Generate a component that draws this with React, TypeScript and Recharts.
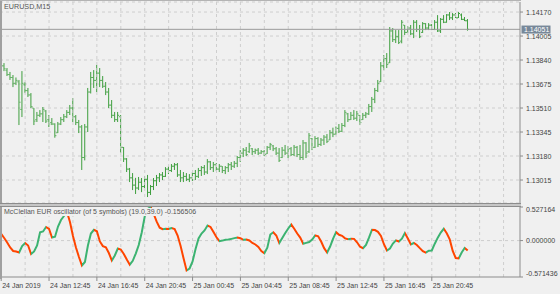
import React from "react";
import { ComposedChart, Bar, Line, XAxis, YAxis, CartesianGrid, ReferenceLine } from "recharts";

const opens = [1.13790,1.13800,1.13770,1.13740,1.13720,1.13680,1.13690,1.13500,1.13670,1.13630,1.13600,1.13510,1.13430,1.13460,1.13470,1.13490,1.13430,1.13410,1.13400,1.13340,1.13400,1.13430,1.13450,1.13480,1.13510,1.13450,1.13410,1.13380,1.13170,1.13380,1.13620,1.13720,1.13700,1.13750,1.13700,1.13660,1.13620,1.13530,1.13460,1.13430,1.13450,1.13240,1.13160,1.13090,1.13030,1.12980,1.12960,1.13000,1.12970,1.13020,1.12930,1.12970,1.13010,1.13030,1.13050,1.13040,1.13090,1.13080,1.13110,1.13120,1.13050,1.13030,1.13040,1.13020,1.13030,1.13060,1.13040,1.13080,1.13100,1.13070,1.13140,1.13100,1.13120,1.13090,1.13110,1.13080,1.13100,1.13120,1.13110,1.13130,1.13170,1.13200,1.13220,1.13210,1.13230,1.13210,1.13220,1.13200,1.13210,1.13195,1.13240,1.13250,1.13230,1.13200,1.13170,1.13220,1.13200,1.13230,1.13190,1.13240,1.13190,1.13170,1.13270,1.13210,1.13300,1.13240,1.13300,1.13260,1.13290,1.13310,1.13290,1.13340,1.13330,1.13370,1.13350,1.13390,1.13470,1.13430,1.13460,1.13440,1.13460,1.13430,1.13460,1.13470,1.13520,1.13570,1.13630,1.13690,1.13800,1.13850,1.13820,1.14040,1.13980,1.14000,1.13970,1.14080,1.14030,1.14060,1.14020,1.14100,1.14050,1.14030,1.14090,1.14060,1.14080,1.14050,1.14100,1.14040,1.14120,1.14100,1.14150,1.14130,1.14150,1.14130,1.14150,1.14120,1.14110];
const highs = [1.13820,1.13819,1.13785,1.13758,1.13737,1.13720,1.13703,1.13764,1.13689,1.13648,1.13613,1.13510,1.13483,1.13496,1.13517,1.13496,1.13462,1.13441,1.13405,1.13414,1.13448,1.13469,1.13496,1.13531,1.13579,1.13462,1.13428,1.13393,1.13400,1.13648,1.13758,1.13771,1.13806,1.13785,1.13730,1.13689,1.13648,1.13565,1.13483,1.13483,1.13462,1.13242,1.13166,1.13098,1.13063,1.13030,1.13036,1.13029,1.13043,1.13050,1.12981,1.13029,1.13050,1.13063,1.13070,1.13104,1.13111,1.13125,1.13132,1.13132,1.13084,1.13070,1.13063,1.13056,1.13070,1.13084,1.13098,1.13111,1.13118,1.13159,1.13146,1.13139,1.13132,1.13125,1.13111,1.13111,1.13132,1.13139,1.13146,1.13180,1.13221,1.13235,1.13242,1.13270,1.13235,1.13231,1.13235,1.13221,1.13221,1.13249,1.13270,1.13256,1.13242,1.13235,1.13242,1.13256,1.13249,1.13242,1.13256,1.13249,1.13256,1.13290,1.13276,1.13338,1.13304,1.13317,1.13310,1.13304,1.13324,1.13331,1.13359,1.13375,1.13383,1.13400,1.13407,1.13496,1.13476,1.13483,1.13496,1.13490,1.13462,1.13476,1.13483,1.13538,1.13586,1.13648,1.13703,1.13826,1.13874,1.13888,1.14067,1.14060,1.14046,1.14046,1.14115,1.14081,1.14074,1.14081,1.14115,1.14115,1.14081,1.14101,1.14094,1.14094,1.14087,1.14115,1.14149,1.14129,1.14149,1.14156,1.14170,1.14163,1.14163,1.14170,1.14160,1.14136,1.14122];
const lows = [1.13770,1.13764,1.13730,1.13703,1.13654,1.13668,1.13393,1.13448,1.13613,1.13586,1.13510,1.13393,1.13414,1.13448,1.13414,1.13407,1.13379,1.13393,1.13306,1.13338,1.13393,1.13414,1.13441,1.13462,1.13414,1.13393,1.13338,1.13084,1.13150,1.13345,1.13610,1.13648,1.13620,1.13654,1.13648,1.13599,1.13510,1.13441,1.13414,1.13414,1.13201,1.13139,1.13070,1.13001,1.12946,1.12919,1.12946,1.12932,1.12960,1.12898,1.12912,1.12946,1.12974,1.13001,1.13015,1.13036,1.13056,1.13070,1.13084,1.13036,1.13001,1.13001,1.13008,1.13001,1.13008,1.13015,1.13029,1.13043,1.13050,1.13056,1.13084,1.13070,1.13077,1.13070,1.13063,1.13056,1.13070,1.13084,1.13098,1.13104,1.13139,1.13173,1.13180,1.13201,1.13187,1.13194,1.13187,1.13194,1.13180,1.13194,1.13221,1.13214,1.13187,1.13139,1.13166,1.13187,1.13166,1.13180,1.13180,1.13173,1.13153,1.13153,1.13166,1.13201,1.13221,1.13235,1.13242,1.13249,1.13256,1.13269,1.13290,1.13310,1.13324,1.13338,1.13345,1.13379,1.13414,1.13428,1.13428,1.13421,1.13393,1.13428,1.13441,1.13462,1.13483,1.13544,1.13620,1.13689,1.13771,1.13785,1.13819,1.13964,1.13957,1.13950,1.13955,1.14012,1.14026,1.14012,1.13991,1.14033,1.13991,1.14026,1.14046,1.14046,1.14046,1.14046,1.14033,1.14026,1.14094,1.14096,1.14115,1.14115,1.14129,1.14129,1.14115,1.14108,1.14042];
const closes = [1.13800,1.13780,1.13740,1.13720,1.13680,1.13700,1.13550,1.13680,1.13630,1.13600,1.13520,1.13420,1.13460,1.13470,1.13500,1.13420,1.13400,1.13400,1.13320,1.13400,1.13430,1.13450,1.13480,1.13510,1.13450,1.13410,1.13380,1.13170,1.13380,1.13620,1.13720,1.13700,1.13750,1.13700,1.13660,1.13620,1.13530,1.13460,1.13430,1.13460,1.13240,1.13160,1.13090,1.13030,1.12980,1.12960,1.13000,1.12970,1.13020,1.12930,1.12970,1.13010,1.13030,1.13050,1.13040,1.13090,1.13080,1.13110,1.13120,1.13050,1.13030,1.13040,1.13020,1.13030,1.13060,1.13040,1.13080,1.13100,1.13070,1.13140,1.13100,1.13120,1.13090,1.13110,1.13080,1.13100,1.13120,1.13110,1.13130,1.13170,1.13200,1.13220,1.13190,1.13250,1.13210,1.13220,1.13200,1.13210,1.13190,1.13240,1.13260,1.13230,1.13200,1.13150,1.13220,1.13200,1.13230,1.13190,1.13240,1.13190,1.13170,1.13270,1.13200,1.13320,1.13240,1.13300,1.13260,1.13290,1.13310,1.13280,1.13340,1.13330,1.13370,1.13350,1.13390,1.13480,1.13430,1.13460,1.13440,1.13470,1.13410,1.13460,1.13470,1.13520,1.13570,1.13630,1.13680,1.13800,1.13850,1.13810,1.14040,1.13980,1.14000,1.13960,1.14100,1.14030,1.14060,1.14020,1.14100,1.14050,1.14000,1.14090,1.14060,1.14080,1.14050,1.14100,1.14040,1.14120,1.14100,1.14150,1.14130,1.14150,1.14130,1.14160,1.14120,1.14110,1.14051];
const oscValues = [0.104,0.041,-0.030,-0.108,-0.163,-0.171,-0.187,-0.085,-0.038,-0.077,-0.210,-0.171,-0.077,0.130,0.143,0.213,0.182,0.049,0.061,0.221,0.323,0.386,0.449,0.292,0.072,-0.108,-0.257,-0.391,-0.336,-0.077,0.111,0.170,0.146,-0.013,-0.086,-0.104,-0.195,-0.312,-0.234,-0.124,-0.140,-0.210,-0.297,-0.378,-0.317,-0.203,-0.069,0.127,0.378,0.496,0.527164,0.418,0.297,0.203,0.179,0.184,0.182,0.198,0.182,0.080,-0.085,-0.281,-0.469,-0.438,-0.328,-0.132,0.033,0.111,0.159,0.237,0.214,0.135,0.052,-0.009,0.000,0.013,0.016,0.027,0.039,0.049,0.038,0.013,0.017,0.002,-0.038,-0.061,-0.100,-0.163,-0.199,-0.110,0.096,0.130,0.080,-0.038,0.041,0.119,0.190,0.253,0.185,0.111,0.047,-0.050,-0.036,-0.022,0.017,0.083,0.068,-0.014,-0.119,-0.187,-0.093,0.030,0.132,0.091,0.075,0.035,0.020,0.028,0.027,-0.027,-0.096,-0.119,-0.069,0.046,0.170,0.165,0.138,0.074,-0.057,-0.155,-0.124,-0.047,0.003,-0.014,0.030,0.119,0.033,-0.061,-0.038,-0.069,-0.119,-0.166,-0.190,-0.159,-0.155,-0.049,0.046,0.126,0.185,0.115,0.019,-0.163,-0.273,-0.281,-0.187,-0.116,-0.156506];

const priceTicks = [1.1417, 1.14005, 1.1384, 1.13675, 1.1351, 1.13345, 1.1318, 1.13015];
const oscTicks = [0.527164, 0, -0.571436];
const timeTickIdx = [0, 16, 32, 48, 64, 80, 96, 112, 128, 144];
const timeTickLabels = ["24 Jan 2019", "24 Jan 12:45", "24 Jan 16:45", "24 Jan 20:45", "25 Jan 00:45", "25 Jan 04:45", "25 Jan 08:45", "25 Jan 12:45", "25 Jan 16:45", "25 Jan 20:45"];
const gridIdx = [0, 8, 16, 24, 32, 40, 48, 56, 64, 72, 80, 88, 96, 104, 112, 120, 128, 136, 144, 152, 160, 168];
const lastPrice = 1.14051;
const symbolTitle = "EURUSD,M15";
const oscTitle = "McClellan EUR oscillator (of 5 symbols) (19.0,39.0) -0.156506";

const BAR_COLOR = "#3f9f3f";
const UP = "#3cb371";
const DOWN = "#ff4500";
const AXIS = "#8c8c8c";
const GRID = "#cecece";
const TEXT = "#444444";
const BG = "#f0f0f0";
const FONT = "'Liberation Sans', Arial, sans-serif";
const X_DOMAIN: [number, number] = [-0.4, 173.5];

const rows = opens.map((o, k) => ({
  k,
  o,
  h: highs[k],
  l: lows[k],
  c: closes[k],
  hl: [lows[k], highs[k]],
  osc: oscValues[k],
}));

const OhlcShape = (props: any) => {
  const { x, y, width, height, payload } = props;
  if (x == null || y == null || !payload) return null;
  const cx = x + (width || 0) / 2;
  const top = Math.min(y, y + height);
  const bot = Math.max(y, y + height);
  const span = payload.h - payload.l;
  const yOf = (v: number) => (span > 0 ? top + ((payload.h - v) / span) * (bot - top) : top);
  const oy = yOf(payload.o);
  const cy = yOf(payload.c);
  return (
    <g fill={BAR_COLOR}>
      <rect x={cx - 0.5} y={top} width={1} height={Math.max(1, bot - top)} />
      <rect x={cx - 1.5} y={oy - 0.5} width={1} height={1} />
      <rect x={cx + 0.5} y={cy - 0.5} width={1} height={1} />
    </g>
  );
};

const PriceTick = (p: any) => (
  <text x={p.x + 1} y={p.y} dy={2.5} fontSize={7} fill={TEXT} fontFamily={FONT} textAnchor="start">
    {Number(p.payload.value).toFixed(5)}
  </text>
);

const OscTick = (p: any) => {
  const v = Number(p.payload.value);
  const shift = v > 0.5 ? 2.5 : v < -0.5 ? -3.2 : 0;
  return (
    <text x={p.x + 1} y={p.y + shift} dy={2.5} fontSize={7} fill={TEXT} fontFamily={FONT} textAnchor="start">
      {v.toFixed(6)}
    </text>
  );
};

const TimeTick = (p: any) => {
  const idx = timeTickIdx.indexOf(p.payload.value);
  return (
    <text x={p.x + 1} y={p.y} dy={4.5} fontSize={7} fill={TEXT} fontFamily={FONT} textAnchor="start">
      {idx >= 0 ? timeTickLabels[idx] : ""}
    </text>
  );
};

const PriceTag = (props: any) => {
  const vb = props.viewBox || {};
  const rx = (vb.x || 0) + (vb.width || 0) + 1.5;
  const ry = vb.y || 0;
  return (
    <g>
      <rect x={rx} y={ry - 3.8} width={29} height={8} fill="#778899" />
      <text x={rx + 2.5} y={ry + 2.6} fontSize={7} fill="#ffffff" fontFamily={FONT}>
        {lastPrice.toFixed(5)}
      </text>
    </g>
  );
};

const n = oscValues.length - 1;
const gradStops: React.ReactElement[] = [];
for (let i = 0; i < n; i++) {
  const col = oscValues[i + 1] >= oscValues[i] ? UP : DOWN;
  gradStops.push(<stop key={"a" + i} offset={i / n} stopColor={col} />);
  gradStops.push(<stop key={"b" + i} offset={(i + 1) / n} stopColor={col} />);
}

export default function App() {
  return (
    <div style={{ position: "fixed", left: 0, top: 0, width: 560, height: 294, background: BG, overflow: "hidden", fontFamily: FONT }}>
      <div style={{ position: "absolute", left: 0, top: 0 }}>
        <ComposedChart width={560} height={206} data={rows} margin={{ top: 2, right: 0, bottom: 3, left: 0 }}>
          <XAxis type="number" dataKey="k" domain={X_DOMAIN} allowDataOverflow hide />
          <YAxis
            orientation="right"
            type="number"
            domain={[1.12857, 1.14239]}
            allowDataOverflow
            ticks={priceTicks}
            interval={0}
            width={40}
            tickSize={3}
            tick={<PriceTick />}
            axisLine={{ stroke: AXIS }}
            tickLine={{ stroke: AXIS }}
          />
          <CartesianGrid vertical={false} stroke={GRID} strokeDasharray="3 3" />
          {gridIdx.map((g) => (
            <ReferenceLine key={"g" + g} x={g} stroke={GRID} strokeDasharray="3 3" />
          ))}
          <ReferenceLine y={lastPrice} stroke="#9a9a9a" label={<PriceTag />} />
          <Bar dataKey="hl" shape={<OhlcShape />} isAnimationActive={false} />
        </ComposedChart>
      </div>
      <div style={{ position: "absolute", left: 0, top: 206 }}>
        <ComposedChart width={560} height={88} data={rows} margin={{ top: 1, right: 0, bottom: 0, left: 0 }}>
          <defs>
            <linearGradient id="oscGrad" x1="0" y1="0" x2="1" y2="0">
              {gradStops}
            </linearGradient>
          </defs>
          <XAxis
            type="number"
            dataKey="k"
            domain={X_DOMAIN}
            allowDataOverflow
            ticks={timeTickIdx}
            interval={0}
            height={17}
            tickSize={4}
            tick={<TimeTick />}
            axisLine={{ stroke: AXIS }}
            tickLine={{ stroke: AXIS }}
          />
          <YAxis
            orientation="right"
            type="number"
            domain={[-0.571436, 0.527164]}
            allowDataOverflow
            ticks={oscTicks}
            interval={0}
            width={40}
            tickSize={3}
            tick={<OscTick />}
            axisLine={{ stroke: AXIS }}
            tickLine={{ stroke: AXIS }}
          />
          {gridIdx.map((g) => (
            <ReferenceLine key={"lg" + g} x={g} stroke={GRID} strokeDasharray="3 3" />
          ))}
          <ReferenceLine y={0} stroke={GRID} strokeDasharray="3 3" />
          <Line type="linear" dataKey="osc" stroke="url(#oscGrad)" strokeWidth={2} dot={false} activeDot={false} isAnimationActive={false} />
        </ComposedChart>
      </div>
      <div style={{ position: "absolute", left: 0, top: 0, width: 2, height: 279, background: "#a0a0a0" }} />
      <div style={{ position: "absolute", left: 0, top: 0, width: 521, height: 1, background: "#b4b4b4" }} />
      <div style={{ position: "absolute", left: 0, top: 203, width: 521, height: 1, background: "#8c8c8c" }} />
      <div style={{ position: "absolute", left: 0, top: 204, width: 521, height: 2, background: "#c6c6c6" }} />
      <div style={{ position: "absolute", left: 0, top: 206, width: 521, height: 1, background: "#8c8c8c" }} />
      <div style={{ position: "absolute", left: 4, top: 3, fontSize: 7.2, lineHeight: "8px", color: "#555555", whiteSpace: "nowrap" }}>
        {symbolTitle}
      </div>
      <div style={{ position: "absolute", left: 3, top: 208, padding: "0 1px", fontSize: 7, lineHeight: "8px", color: "#555555", background: BG, whiteSpace: "nowrap" }}>
        {oscTitle}
      </div>
    </div>
  );
}
